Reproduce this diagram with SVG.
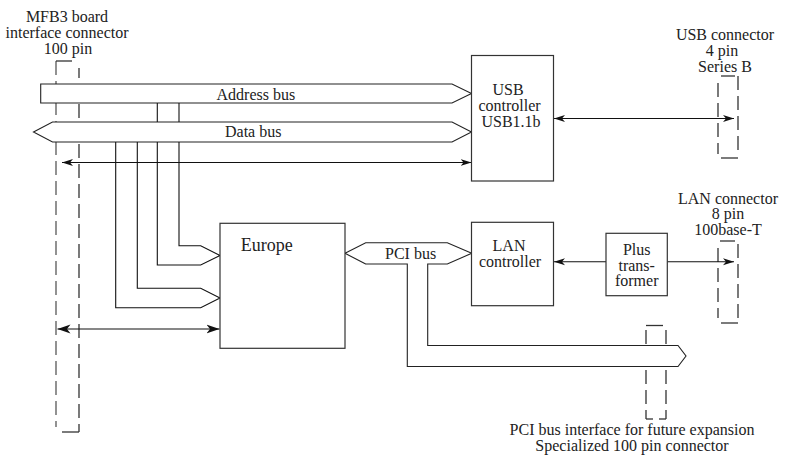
<svg xmlns="http://www.w3.org/2000/svg" width="786" height="455" viewBox="0 0 786 455">
<style>
text{font-family:'Liberation Serif','Times New Roman','DejaVu Serif',serif;font-size:16px;fill:#222}
.m{text-anchor:middle}
.box{fill:#fff;stroke:#333;stroke-width:1.2}
.bus{fill:#fff;stroke:#222;stroke-width:1.1}
.ln{fill:none;stroke:#111;stroke-width:1.1}
.dash{fill:none;stroke:#333;stroke-width:1.3;stroke-dasharray:14 6}
.dashg{fill:none;stroke:#777;stroke-width:1.6;stroke-dasharray:14 6}
.solid{fill:none;stroke:#333;stroke-width:1.3}
</style>
<defs>
<marker id="ah" markerUnits="userSpaceOnUse" markerWidth="12" markerHeight="8" refX="11" refY="4" orient="auto-start-reverse"><path d="M0,0.5 L11,4 L0,7.5 L3,4 Z" fill="#111"/></marker>
<marker id="ahb" markerUnits="userSpaceOnUse" markerWidth="14" markerHeight="10" refX="13" refY="5" orient="auto-start-reverse"><path d="M0,0.5 L13,5 L0,9.5 L3.5,5 Z" fill="#111"/></marker>
</defs>

<g id="mfb3-connector" font-family="Liberation Serif, serif">
<text class="m" x="67" y="21.5">MFB3 board</text>
<text class="m" x="67" y="37.5">interface connector</text>
<text class="m" x="68" y="53.5">100 pin</text>
<line class="dashg" x1="56" y1="61" x2="56" y2="427"/>
<line class="dash" x1="79" y1="68" x2="79" y2="432" stroke-dashoffset="4"/>
<line class="solid" x1="56" y1="61" x2="72" y2="61"/>
<line class="solid" x1="62" y1="432" x2="79" y2="432"/>
</g>

<g id="usb-connector">
<text class="m" x="725" y="40">USB connector</text>
<text class="m" x="722" y="56">4 pin</text>
<text class="m" x="725" y="71.5">Series B</text>
<line class="dash" x1="718" y1="83" x2="718" y2="154"/>
<line class="dash" x1="738" y1="76" x2="738" y2="154"/>
<line class="solid" x1="721" y1="76" x2="735" y2="76"/>
<line class="solid" x1="721" y1="158" x2="738" y2="158"/>
</g>

<g id="lan-connector">
<text class="m" x="728" y="203.5">LAN connector</text>
<text class="m" x="728" y="219">8 pin</text>
<text class="m" x="728" y="234.5">100base-T</text>
<line class="dash" x1="718" y1="248" x2="718" y2="318"/>
<line class="dash" x1="738" y1="244" x2="738" y2="322"/>
<line class="solid" x1="720" y1="241" x2="735" y2="241"/>
<line class="solid" x1="721" y1="323" x2="738" y2="323"/>
</g>

<g id="pci-connector">
<line class="dash" x1="646" y1="330" x2="646" y2="419"/>
<line class="dash" x1="666" y1="330" x2="666" y2="419"/>
<line class="solid" x1="646" y1="325.5" x2="663" y2="325.5"/>
<line class="solid" x1="646" y1="419" x2="653" y2="419"/>
<line class="solid" x1="659" y1="419" x2="666" y2="419"/>
<text class="m" x="632" y="435">PCI bus interface for future expansion</text>
<text class="m" x="632" y="451">Specialized 100 pin connector</text>
</g>

<g id="connectors">
<polygon id="address-bus" class="bus" points="40.7,84 452,84 471.5,93.5 452,103 40.7,103"/>
<text x="216.5" y="99.5">Address bus</text>
<polygon id="data-bus" class="bus" points="33.5,132 52.5,122 452,122 471.5,132 452,142 52.5,142"/>
<text x="225" y="137">Data bus</text>
<line class="ln" x1="157.3" y1="103" x2="157.3" y2="122"/>
<line class="ln" x1="179" y1="103" x2="179" y2="122"/>
<path class="ln" d="M179,142 V245.7 H200.7 L220,255.5 L200.7,265 H157.3 V142"/>
<path class="ln" d="M137.3,142 V288.3 H200.7 L220,298 L200.7,307.7 H115.7 V142"/>
<line class="ln" x1="62" y1="162.5" x2="471.5" y2="162.5" marker-start="url(#ah)" marker-end="url(#ah)"/>
<line class="ln" x1="57.5" y1="329" x2="219.5" y2="329" stroke-width="2.2" marker-start="url(#ahb)" marker-end="url(#ahb)"/>
<line class="ln" x1="554" y1="118.5" x2="734" y2="118.5" marker-start="url(#ah)" marker-end="url(#ah)"/>
<line class="ln" x1="554" y1="261.7" x2="606" y2="261.7" marker-start="url(#ah)"/>
<line class="ln" x1="667.3" y1="261.7" x2="734" y2="261.7" marker-end="url(#ah)"/>
<path id="pci-bus" class="bus" d="M365.7,264 L345,253.3 L365.7,242.7 H447.3 L471.7,253.3 L447.3,264 H427.7 V345.5 H678 L686,356 L678,366.5 H407.3 V264 Z"/>
<text x="385" y="259">PCI bus</text>
</g>

<g id="usb-controller">
<rect class="box" x="471.5" y="55.5" width="82" height="125.5"/>
<text class="m" x="508" y="95">USB</text>
<text class="m" x="509.5" y="111">controller</text>
<text class="m" x="511" y="127">USB1.1b</text>
</g>

<g id="lan-controller">
<rect class="box" x="471.5" y="222.3" width="82" height="83.4"/>
<text class="m" x="509" y="250.5">LAN</text>
<text class="m" x="510" y="267">controller</text>
</g>

<g id="transformer">
<rect class="box" x="606" y="233.3" width="61.3" height="62.4"/>
<text class="m" x="636.7" y="255">Plus</text>
<text class="m" x="636.7" y="270.5">trans-</text>
<text class="m" x="636.7" y="286">former</text>
</g>

<g id="europe">
<rect class="box" x="220" y="223.3" width="125" height="125"/>
<text x="240.7" y="250.5" style="font-size:18px">Europe</text>
</g>
</svg>
